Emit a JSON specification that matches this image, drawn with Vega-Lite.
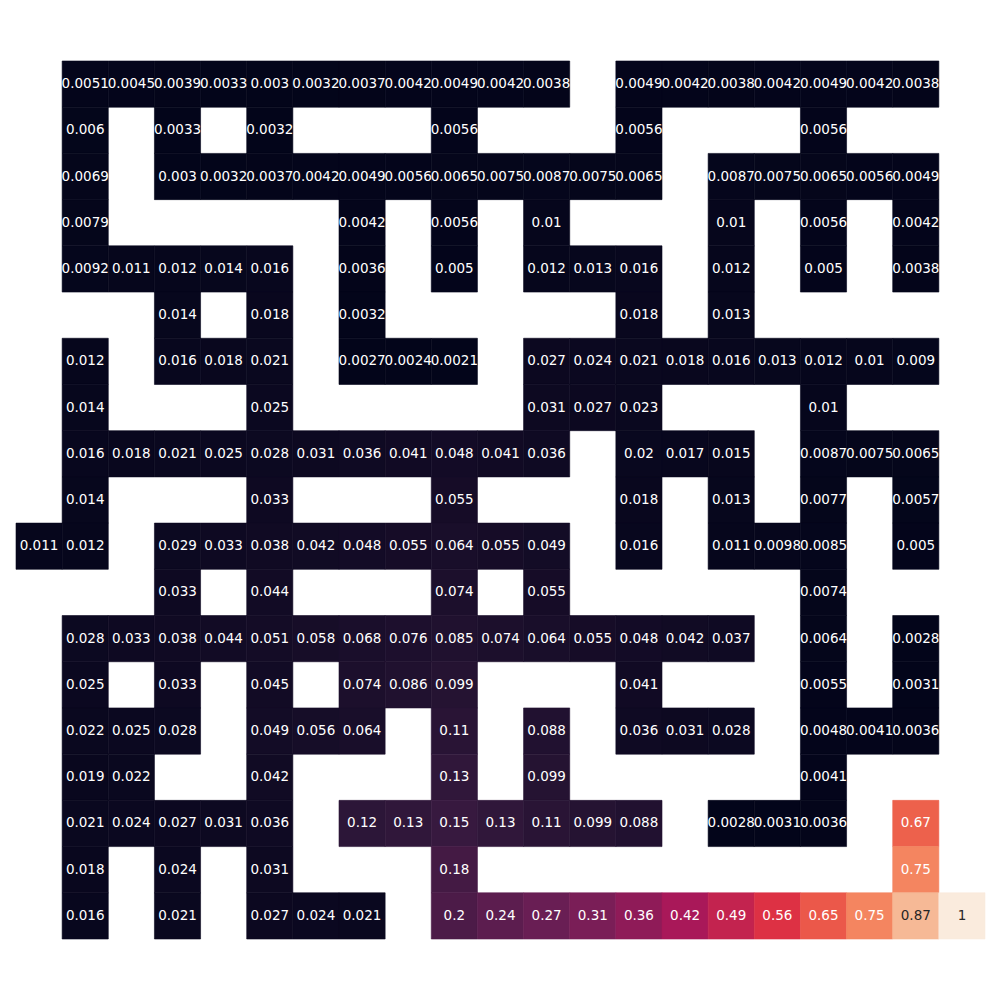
{
  "$schema": "https://vega.github.io/schema/vega-lite/v6.json",
  "width": 969,
  "height": 878,
  "autosize": {"type": "none"},
  "padding": {"left": 16, "top": 61, "right": 15, "bottom": 61},
  "background": "white",
  "config": {"view": {"stroke": null}},
  "data": {"values": [
    {"r":0,"c":1,"v":0.0051},{"r":0,"c":2,"v":0.0045},{"r":0,"c":3,"v":0.0039},{"r":0,"c":4,"v":0.0033},{"r":0,"c":5,"v":0.003},{"r":0,"c":6,"v":0.0032},{"r":0,"c":7,"v":0.0037},{"r":0,"c":8,"v":0.0042},{"r":0,"c":9,"v":0.0049},{"r":0,"c":10,"v":0.0042},{"r":0,"c":11,"v":0.0038},
    {"r":0,"c":13,"v":0.0049},{"r":0,"c":14,"v":0.0042},{"r":0,"c":15,"v":0.0038},{"r":0,"c":16,"v":0.0042},{"r":0,"c":17,"v":0.0049},{"r":0,"c":18,"v":0.0042},{"r":0,"c":19,"v":0.0038},
    {"r":1,"c":1,"v":0.006},{"r":1,"c":3,"v":0.0033},{"r":1,"c":5,"v":0.0032},{"r":1,"c":9,"v":0.0056},{"r":1,"c":13,"v":0.0056},{"r":1,"c":17,"v":0.0056},
    {"r":2,"c":1,"v":0.0069},{"r":2,"c":3,"v":0.003},{"r":2,"c":4,"v":0.0032},{"r":2,"c":5,"v":0.0037},{"r":2,"c":6,"v":0.0042},{"r":2,"c":7,"v":0.0049},{"r":2,"c":8,"v":0.0056},{"r":2,"c":9,"v":0.0065},{"r":2,"c":10,"v":0.0075},{"r":2,"c":11,"v":0.0087},{"r":2,"c":12,"v":0.0075},{"r":2,"c":13,"v":0.0065},
    {"r":2,"c":15,"v":0.0087},{"r":2,"c":16,"v":0.0075},{"r":2,"c":17,"v":0.0065},{"r":2,"c":18,"v":0.0056},{"r":2,"c":19,"v":0.0049},
    {"r":3,"c":1,"v":0.0079},{"r":3,"c":7,"v":0.0042},{"r":3,"c":9,"v":0.0056},{"r":3,"c":11,"v":0.01},{"r":3,"c":15,"v":0.01},{"r":3,"c":17,"v":0.0056},{"r":3,"c":19,"v":0.0042},
    {"r":4,"c":1,"v":0.0092},{"r":4,"c":2,"v":0.011},{"r":4,"c":3,"v":0.012},{"r":4,"c":4,"v":0.014},{"r":4,"c":5,"v":0.016},{"r":4,"c":7,"v":0.0036},{"r":4,"c":9,"v":0.005},{"r":4,"c":11,"v":0.012},{"r":4,"c":12,"v":0.013},{"r":4,"c":13,"v":0.016},{"r":4,"c":15,"v":0.012},{"r":4,"c":17,"v":0.005},{"r":4,"c":19,"v":0.0038},
    {"r":5,"c":3,"v":0.014},{"r":5,"c":5,"v":0.018},{"r":5,"c":7,"v":0.0032},{"r":5,"c":13,"v":0.018},{"r":5,"c":15,"v":0.013},
    {"r":6,"c":1,"v":0.012},{"r":6,"c":3,"v":0.016},{"r":6,"c":4,"v":0.018},{"r":6,"c":5,"v":0.021},{"r":6,"c":7,"v":0.0027},{"r":6,"c":8,"v":0.0024},{"r":6,"c":9,"v":0.0021},{"r":6,"c":11,"v":0.027},{"r":6,"c":12,"v":0.024},{"r":6,"c":13,"v":0.021},{"r":6,"c":14,"v":0.018},{"r":6,"c":15,"v":0.016},{"r":6,"c":16,"v":0.013},{"r":6,"c":17,"v":0.012},{"r":6,"c":18,"v":0.01},{"r":6,"c":19,"v":0.009},
    {"r":7,"c":1,"v":0.014},{"r":7,"c":5,"v":0.025},{"r":7,"c":11,"v":0.031},{"r":7,"c":12,"v":0.027},{"r":7,"c":13,"v":0.023},{"r":7,"c":17,"v":0.01},
    {"r":8,"c":1,"v":0.016},{"r":8,"c":2,"v":0.018},{"r":8,"c":3,"v":0.021},{"r":8,"c":4,"v":0.025},{"r":8,"c":5,"v":0.028},{"r":8,"c":6,"v":0.031},{"r":8,"c":7,"v":0.036},{"r":8,"c":8,"v":0.041},{"r":8,"c":9,"v":0.048},{"r":8,"c":10,"v":0.041},{"r":8,"c":11,"v":0.036},{"r":8,"c":13,"v":0.02},{"r":8,"c":14,"v":0.017},{"r":8,"c":15,"v":0.015},{"r":8,"c":17,"v":0.0087},{"r":8,"c":18,"v":0.0075},{"r":8,"c":19,"v":0.0065},
    {"r":9,"c":1,"v":0.014},{"r":9,"c":5,"v":0.033},{"r":9,"c":9,"v":0.055},{"r":9,"c":13,"v":0.018},{"r":9,"c":15,"v":0.013},{"r":9,"c":17,"v":0.0077},{"r":9,"c":19,"v":0.0057},
    {"r":10,"c":0,"v":0.011},{"r":10,"c":1,"v":0.012},{"r":10,"c":3,"v":0.029},{"r":10,"c":4,"v":0.033},{"r":10,"c":5,"v":0.038},{"r":10,"c":6,"v":0.042},{"r":10,"c":7,"v":0.048},{"r":10,"c":8,"v":0.055},{"r":10,"c":9,"v":0.064},{"r":10,"c":10,"v":0.055},{"r":10,"c":11,"v":0.049},{"r":10,"c":13,"v":0.016},{"r":10,"c":15,"v":0.011},{"r":10,"c":16,"v":0.0098},{"r":10,"c":17,"v":0.0085},{"r":10,"c":19,"v":0.005},
    {"r":11,"c":3,"v":0.033},{"r":11,"c":5,"v":0.044},{"r":11,"c":9,"v":0.074},{"r":11,"c":11,"v":0.055},{"r":11,"c":17,"v":0.0074},
    {"r":12,"c":1,"v":0.028},{"r":12,"c":2,"v":0.033},{"r":12,"c":3,"v":0.038},{"r":12,"c":4,"v":0.044},{"r":12,"c":5,"v":0.051},{"r":12,"c":6,"v":0.058},{"r":12,"c":7,"v":0.068},{"r":12,"c":8,"v":0.076},{"r":12,"c":9,"v":0.085},{"r":12,"c":10,"v":0.074},{"r":12,"c":11,"v":0.064},{"r":12,"c":12,"v":0.055},{"r":12,"c":13,"v":0.048},{"r":12,"c":14,"v":0.042},{"r":12,"c":15,"v":0.037},{"r":12,"c":17,"v":0.0064},{"r":12,"c":19,"v":0.0028},
    {"r":13,"c":1,"v":0.025},{"r":13,"c":3,"v":0.033},{"r":13,"c":5,"v":0.045},{"r":13,"c":7,"v":0.074},{"r":13,"c":8,"v":0.086},{"r":13,"c":9,"v":0.099},{"r":13,"c":13,"v":0.041},{"r":13,"c":17,"v":0.0055},{"r":13,"c":19,"v":0.0031},
    {"r":14,"c":1,"v":0.022},{"r":14,"c":2,"v":0.025},{"r":14,"c":3,"v":0.028},{"r":14,"c":5,"v":0.049},{"r":14,"c":6,"v":0.056},{"r":14,"c":7,"v":0.064},{"r":14,"c":9,"v":0.11},{"r":14,"c":11,"v":0.088},{"r":14,"c":13,"v":0.036},{"r":14,"c":14,"v":0.031},{"r":14,"c":15,"v":0.028},{"r":14,"c":17,"v":0.0048},{"r":14,"c":18,"v":0.0041},{"r":14,"c":19,"v":0.0036},
    {"r":15,"c":1,"v":0.019},{"r":15,"c":2,"v":0.022},{"r":15,"c":5,"v":0.042},{"r":15,"c":9,"v":0.13},{"r":15,"c":11,"v":0.099},{"r":15,"c":17,"v":0.0041},
    {"r":16,"c":1,"v":0.021},{"r":16,"c":2,"v":0.024},{"r":16,"c":3,"v":0.027},{"r":16,"c":4,"v":0.031},{"r":16,"c":5,"v":0.036},{"r":16,"c":7,"v":0.12},{"r":16,"c":8,"v":0.13},{"r":16,"c":9,"v":0.15},{"r":16,"c":10,"v":0.13},{"r":16,"c":11,"v":0.11},{"r":16,"c":12,"v":0.099},{"r":16,"c":13,"v":0.088},{"r":16,"c":15,"v":0.0028},{"r":16,"c":16,"v":0.0031},{"r":16,"c":17,"v":0.0036},{"r":16,"c":19,"v":0.67},
    {"r":17,"c":1,"v":0.018},{"r":17,"c":3,"v":0.024},{"r":17,"c":5,"v":0.031},{"r":17,"c":9,"v":0.18},{"r":17,"c":19,"v":0.75},
    {"r":18,"c":1,"v":0.016},{"r":18,"c":3,"v":0.021},{"r":18,"c":5,"v":0.027},{"r":18,"c":6,"v":0.024},{"r":18,"c":7,"v":0.021},{"r":18,"c":9,"v":0.2},{"r":18,"c":10,"v":0.24},{"r":18,"c":11,"v":0.27},{"r":18,"c":12,"v":0.31},{"r":18,"c":13,"v":0.36},{"r":18,"c":14,"v":0.42},{"r":18,"c":15,"v":0.49},{"r":18,"c":16,"v":0.56},{"r":18,"c":17,"v":0.65},{"r":18,"c":18,"v":0.75},{"r":18,"c":19,"v":0.87},{"r":18,"c":20,"v":1}
  ]},
  "encoding": {
    "x": {"field": "c", "type": "ordinal", "axis": null,
          "scale": {"domain": [0,1,2,3,4,5,6,7,8,9,10,11,12,13,14,15,16,17,18,19,20], "paddingInner": 0, "paddingOuter": 0}},
    "y": {"field": "r", "type": "ordinal", "axis": null,
          "scale": {"domain": [0,1,2,3,4,5,6,7,8,9,10,11,12,13,14,15,16,17,18], "paddingInner": 0, "paddingOuter": 0}}
  },
  "layer": [
    {
      "mark": {"type": "rect", "strokeWidth": 0.6},
      "encoding": {
        "color": {"field": "v", "type": "quantitative", "legend": null,
          "scale": {"type": "linear",
            "domain": [0.0021, 0.1447, 0.2872, 0.4298, 0.5723, 0.7149, 0.8574, 1],
            "range": ["#03051A", "#35193E", "#701F57", "#AD1759", "#E13342", "#F37651", "#F6B48F", "#FAEBDD"],
            "interpolate": "rgb"}},
        "stroke": {"field": "v", "type": "quantitative", "legend": null,
          "scale": {"type": "linear",
            "domain": [0.0021, 0.1447, 0.2872, 0.4298, 0.5723, 0.7149, 0.8574, 1],
            "range": ["#03051A", "#35193E", "#701F57", "#AD1759", "#E13342", "#F37651", "#F6B48F", "#FAEBDD"],
            "interpolate": "rgb"}}
      }
    },
    {
      "mark": {"type": "text", "font": "DejaVu Sans", "fontSize": 13.5, "baseline": "middle", "align": "center"},
      "encoding": {
        "text": {"field": "v", "type": "quantitative", "format": ".2~g"},
        "color": {"condition": {"test": "datum.v > 0.8", "value": "#262626"}, "value": "#ffffff"}
      }
    }
  ]
}
